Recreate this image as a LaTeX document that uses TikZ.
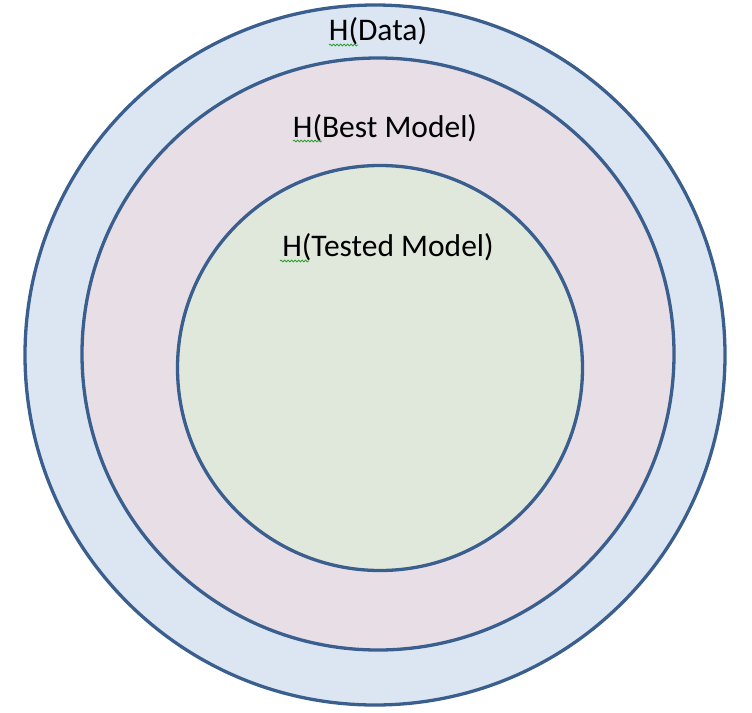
\documentclass[tikz,border=0pt]{standalone}
\usepackage{fontspec}
\setmainfont{Carlito}
\usetikzlibrary{decorations.pathmorphing}
\definecolor{ringline}{HTML}{3A5F8E}
\definecolor{fillouter}{HTML}{DCE6F2}
\definecolor{fillmid}{HTML}{E7DEE6}
\definecolor{fillinner}{HTML}{E0E8DC}
\definecolor{squig}{HTML}{2EA02E}
\tikzset{
  ring/.style={circle, draw=ringline, line width=3.3pt, inner sep=0pt},
  lbl/.style={anchor=base, font=\fontsize{31.5}{37}\selectfont, inner sep=0pt, text=black},
  spell/.style={draw=squig, line width=0.8pt, decorate, decoration={snake, amplitude=0.9pt, segment length=3.5pt}}
}
\begin{document}
\begin{tikzpicture}[x=1pt,y=-1pt]
\useasboundingbox (0,0) rectangle (752,712);
\node[ring, fill=fillouter, minimum size=700pt] (outer) at (375,355) {};
\node[ring, fill=fillmid, minimum size=592pt] (mid) at (378,354) {};
\node[ring, fill=fillinner, minimum size=405pt] (inner) at (380,368) {};
\node[lbl] (tdata) at (378,40) {H(Data)};
\node[lbl] (tbest) at (385,137) {H(Best Model)};
\node[lbl] (ttest) at (388,256) {H(Tested Model)};
\coordinate (s1a) at (329,45); \coordinate (s1b) at (358,45);
\coordinate (s2a) at (293,141); \coordinate (s2b) at (322,141);
\coordinate (s3a) at (280,261); \coordinate (s3b) at (309,261);
\draw[spell] (s1a) -- (s1b);
\draw[spell] (s2a) -- (s2b);
\draw[spell] (s3a) -- (s3b);
\end{tikzpicture}
\end{document}
